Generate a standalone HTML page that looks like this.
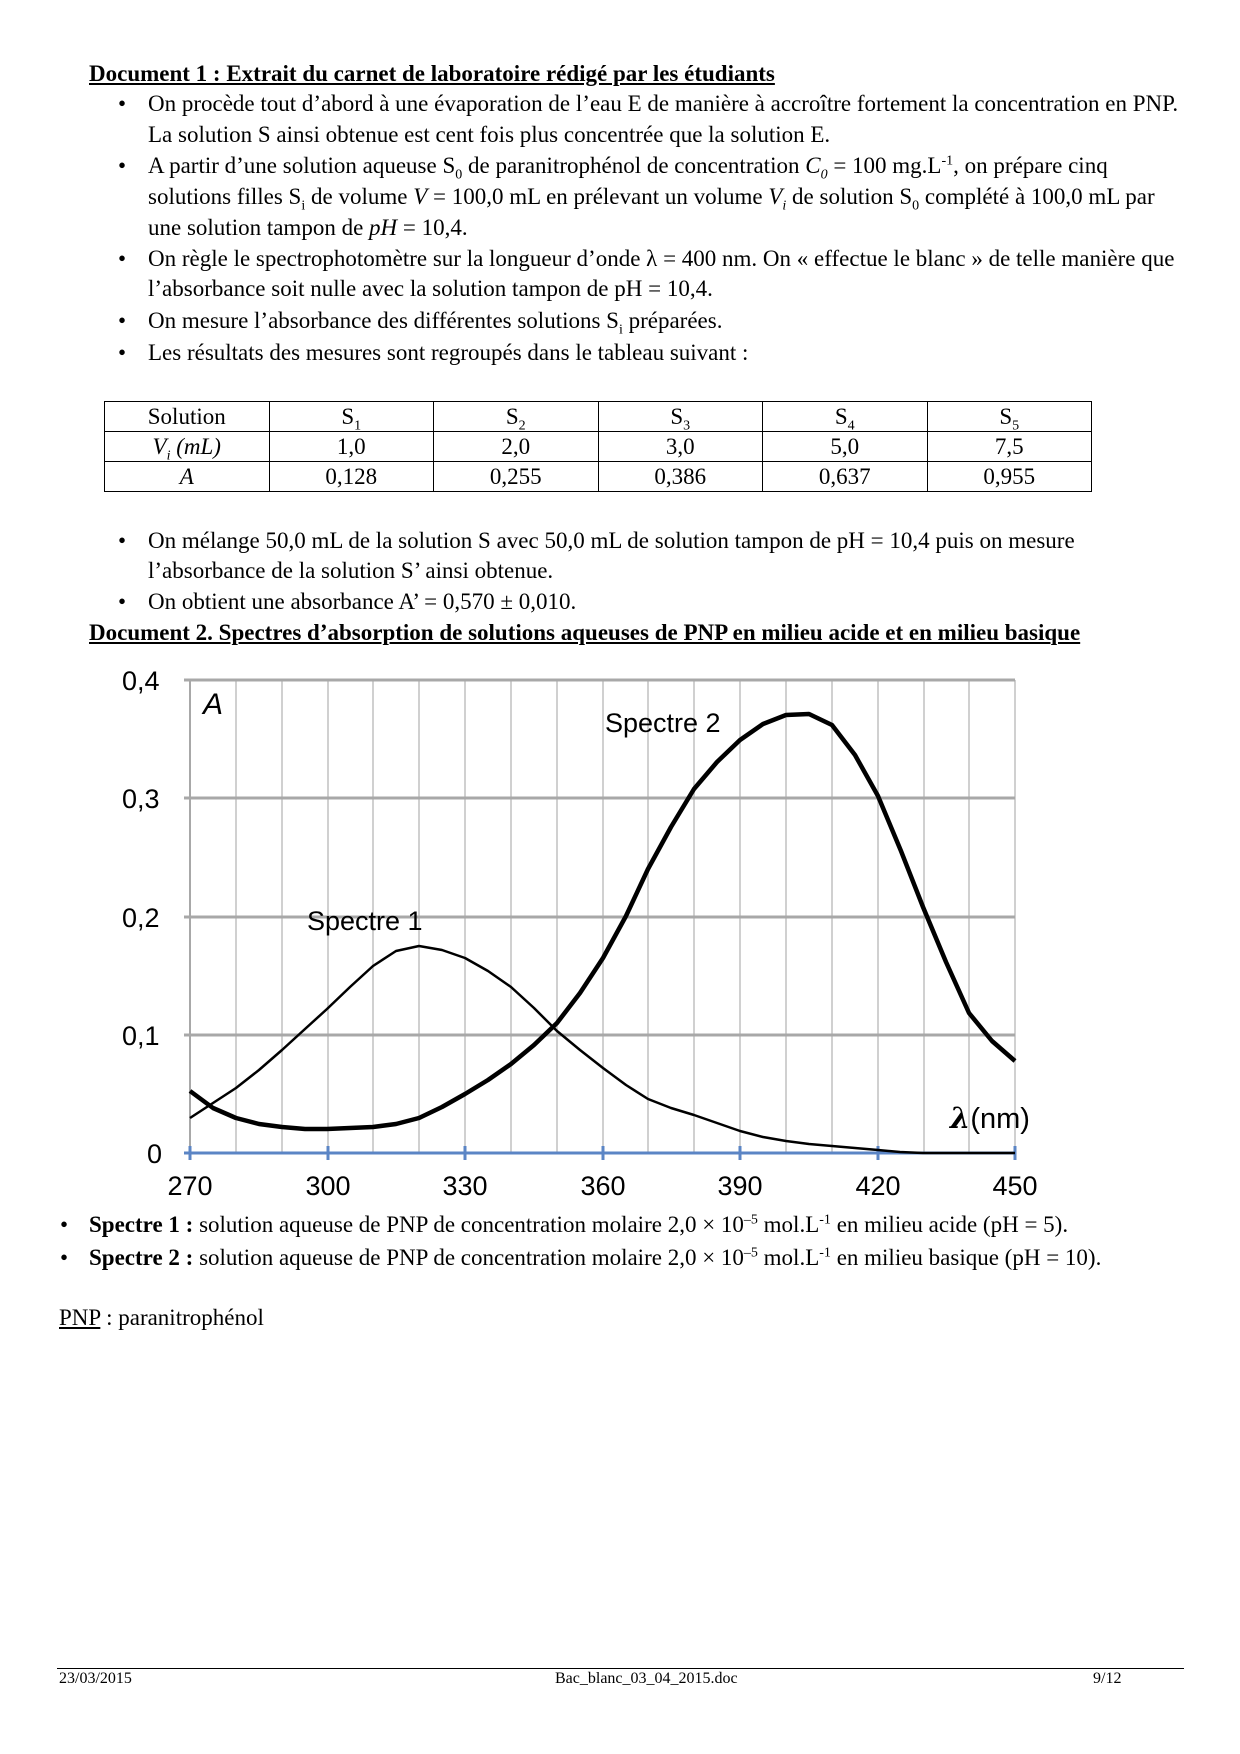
<!DOCTYPE html>
<html><head><meta charset="utf-8"><style>
body{margin:0;background:#fff;}
#p{position:relative;width:1240px;height:1754px;font-family:"Liberation Serif",serif;font-size:23px;color:#000;overflow:hidden}
.l{position:absolute;line-height:24px;white-space:nowrap}
.b{position:absolute;line-height:24px}
sub,sup{font-size:14px;line-height:0}
table{position:absolute;left:104px;top:401px;width:988px;border-collapse:collapse;font-size:23px;table-layout:fixed}
td{border:1.5px solid #000;height:29px;text-align:center;padding:0;line-height:24px}
.f{position:absolute;font-size:16px;top:1670px}
</style></head><body><div id="p">
<div class="l" style="left:89px;top:62px"><b><u>Document 1 : Extrait du carnet de laboratoire rédigé par les étudiants</u></b></div>
<div class="b" style="left:118px;top:92px">•</div><div class="l" style="left:148px;top:92px">On procède tout d’abord à une évaporation de l’eau E de manière à accroître fortement la concentration en PNP.</div>
<div class="l" style="left:148px;top:123px">La solution S ainsi obtenue est cent fois plus concentrée que la solution E.</div>
<div class="b" style="left:118px;top:154px">•</div><div class="l" style="left:148px;top:154px">A partir d’une solution aqueuse S<sub>0</sub> de paranitrophénol de concentration <i>C<sub>0</sub></i> = 100 mg.L<sup>-1</sup>, on prépare cinq</div>
<div class="l" style="left:148px;top:185px">solutions filles S<sub>i</sub> de volume <i>V</i> = 100,0 mL en prélevant un volume <i>V<sub>i</sub></i> de solution S<sub>0</sub> complété à 100,0 mL par</div>
<div class="l" style="left:148px;top:216px">une solution tampon de <i>pH</i> = 10,4.</div>
<div class="b" style="left:118px;top:247px">•</div><div class="l" style="left:148px;top:247px">On règle le spectrophotomètre sur la longueur d’onde λ = 400 nm. On « effectue le blanc » de telle manière que</div>
<div class="l" style="left:148px;top:277px">l’absorbance soit nulle avec la solution tampon de pH = 10,4.</div>
<div class="b" style="left:118px;top:309px">•</div><div class="l" style="left:148px;top:309px">On mesure l’absorbance des différentes solutions S<sub>i</sub> préparées.</div>
<div class="b" style="left:118px;top:341px">•</div><div class="l" style="left:148px;top:341px">Les résultats des mesures sont regroupés dans le tableau suivant :</div>
<table>
<tr><td>Solution</td><td>S<sub>1</sub></td><td>S<sub>2</sub></td><td>S<sub>3</sub></td><td>S<sub>4</sub></td><td>S<sub>5</sub></td></tr>
<tr><td><i>V<sub>i</sub> (mL)</i></td><td>1,0</td><td>2,0</td><td>3,0</td><td>5,0</td><td>7,5</td></tr>
<tr><td><i>A</i></td><td>0,128</td><td>0,255</td><td>0,386</td><td>0,637</td><td>0,955</td></tr>
</table>
<div class="b" style="left:118px;top:529px">•</div><div class="l" style="left:148px;top:529px">On mélange 50,0 mL de la solution S avec 50,0 mL de solution tampon de pH = 10,4 puis on mesure</div>
<div class="l" style="left:148px;top:559px">l’absorbance de la solution S’ ainsi obtenue.</div>
<div class="b" style="left:118px;top:590px">•</div><div class="l" style="left:148px;top:590px">On obtient une absorbance A’ = 0,570 ± 0,010.</div>
<div class="l" style="left:89px;top:621px"><b><u>Document 2. Spectres d’absorption de solutions aqueuses de PNP en milieu acide et en milieu basique</u></b></div>

<svg style="position:absolute;left:0;top:0" width="1240" height="1754" font-family="Liberation Sans, Arial, sans-serif">
<g stroke="#d0d0d0" stroke-width="2">
<line x1="236" y1="680" x2="236" y2="1153"/><line x1="282" y1="680" x2="282" y2="1153"/><line x1="328" y1="680" x2="328" y2="1153"/><line x1="373" y1="680" x2="373" y2="1153"/><line x1="419" y1="680" x2="419" y2="1153"/><line x1="465" y1="680" x2="465" y2="1153"/><line x1="511" y1="680" x2="511" y2="1153"/><line x1="557" y1="680" x2="557" y2="1153"/><line x1="603" y1="680" x2="603" y2="1153"/><line x1="648" y1="680" x2="648" y2="1153"/><line x1="694" y1="680" x2="694" y2="1153"/><line x1="740" y1="680" x2="740" y2="1153"/><line x1="786" y1="680" x2="786" y2="1153"/><line x1="832" y1="680" x2="832" y2="1153"/><line x1="878" y1="680" x2="878" y2="1153"/><line x1="924" y1="680" x2="924" y2="1153"/><line x1="969" y1="680" x2="969" y2="1153"/><line x1="1015" y1="680" x2="1015" y2="1153"/>
</g>
<g stroke="#a8a8a8" stroke-width="3">
<line x1="184" y1="680" x2="1015" y2="680"/><line x1="184" y1="798" x2="1015" y2="798"/><line x1="184" y1="917" x2="1015" y2="917"/><line x1="184" y1="1035" x2="1015" y2="1035"/>
</g>
<line x1="190" y1="680" x2="190" y2="1153" stroke="#a8a8a8" stroke-width="2"/>
<g stroke="#5b85c5" stroke-width="3">
<line x1="184" y1="1153" x2="1015" y2="1153"/>
<line x1="190" y1="1146" x2="190" y2="1160"/><line x1="328" y1="1146" x2="328" y2="1160"/><line x1="465" y1="1146" x2="465" y2="1160"/><line x1="603" y1="1146" x2="603" y2="1160"/><line x1="740" y1="1146" x2="740" y2="1160"/><line x1="878" y1="1146" x2="878" y2="1160"/><line x1="1015" y1="1146" x2="1015" y2="1160"/>
</g>
<polyline fill="none" stroke="#000" stroke-width="2.5" stroke-linejoin="round" points="190,1118 213,1103 236,1088 259,1070 282,1050 305,1029 327,1009 350,987 373,966 396,951 419,946 442,950 465,958 488,971 511,987 534,1008 557,1031 580,1050 603,1068 626,1085 648,1099 671,1108 694,1115 717,1123 740,1131 763,1137 786,1141 809,1144 832,1146 855,1148 878,1150 900,1152 923,1153 1015,1153"/>
<polyline fill="none" stroke="#000" stroke-width="4.5" stroke-linejoin="round" points="190,1091 213,1108 236,1118 259,1124 282,1127 305,1129 327,1129 350,1128 373,1127 396,1124 419,1118 442,1107 465,1094 488,1080 511,1064 534,1045 557,1023 580,993 603,958 626,916 648,869 671,827 694,789 717,762 740,740 763,724 786,715 809,714 832,725 855,755 878,796 901,851 923,907 946,962 969,1013 992,1041 1015,1061"/>
<g font-size="27" fill="#000">
<text x="122" y="690">0,4</text><text x="122" y="808">0,3</text><text x="122" y="927">0,2</text><text x="122" y="1045">0,1</text><text x="147" y="1163">0</text>
<text x="190" y="1195" text-anchor="middle">270</text><text x="328" y="1195" text-anchor="middle">300</text><text x="465" y="1195" text-anchor="middle">330</text><text x="603" y="1195" text-anchor="middle">360</text><text x="740" y="1195" text-anchor="middle">390</text><text x="878" y="1195" text-anchor="middle">420</text><text x="1015" y="1195" text-anchor="middle">450</text>
<text x="203" y="714" font-style="italic" font-size="30">A</text>
<text x="605" y="732">Spectre 2</text>
<text x="307" y="930">Spectre 1</text>
<text x="950" y="1128" font-size="29"><tspan font-style="italic" font-family="DejaVu Serif" font-weight="bold">λ</tspan>(nm)</text>
</g>
</svg>

<div class="b" style="left:60px;top:1213px">•</div><div class="l" style="left:89px;top:1213px"><b>Spectre 1 :</b> solution aqueuse de PNP de concentration molaire 2,0 × 10<sup>–5</sup> mol.L<sup>-1</sup> en milieu acide (pH = 5).</div>
<div class="b" style="left:60px;top:1246px">•</div><div class="l" style="left:89px;top:1246px"><b>Spectre 2 :</b> solution aqueuse de PNP de concentration molaire 2,0 × 10<sup>–5</sup> mol.L<sup>-1</sup> en milieu basique (pH = 10).</div>
<div class="l" style="left:59px;top:1306px"><u>PNP</u> : paranitrophénol</div>
<div style="position:absolute;left:57px;top:1668px;width:1127px;border-top:1.5px solid #000"></div>
<div class="f" style="left:59px">23/03/2015</div>
<div class="f" style="left:555px">Bac_blanc_03_04_2015.doc</div>
<div class="f" style="left:1093px">9/12</div>
</div></body></html>
